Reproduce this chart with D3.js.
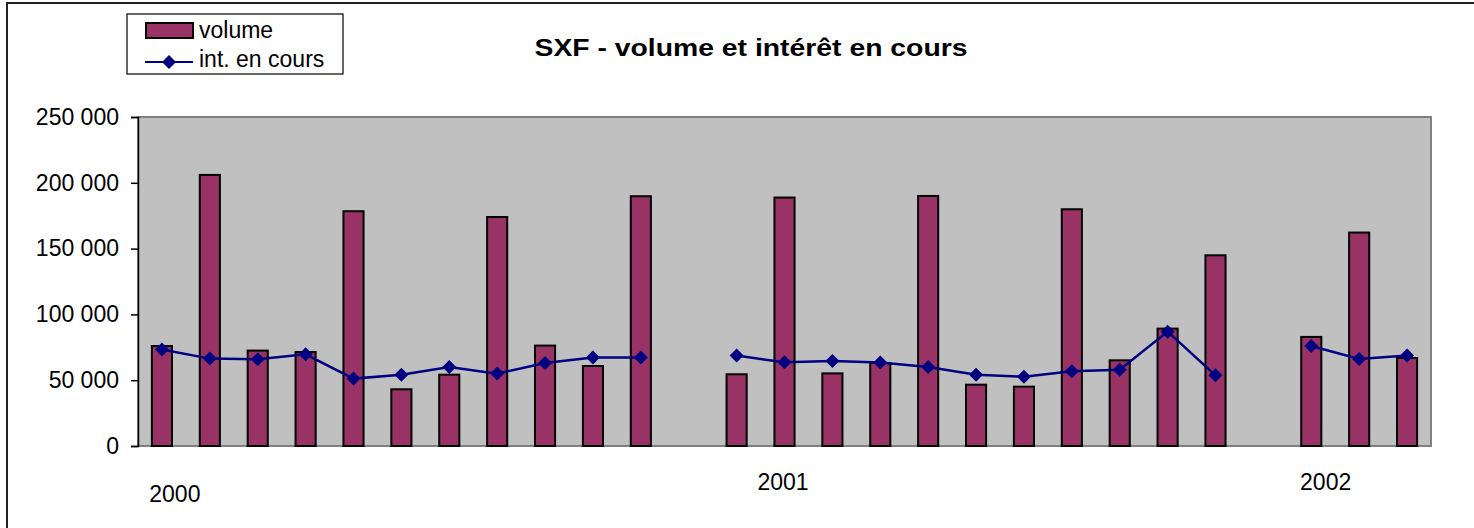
<!DOCTYPE html>
<html>
<head>
<meta charset="utf-8">
<script src="https://cdn.jsdelivr.net/npm/d3@7"></script>
<style>
  body { margin: 0; background: #fff; }
  svg { display: block; font-family: Arial, "Liberation Sans", sans-serif; }
</style>
</head>
<body>
<svg width="1474" height="528"></svg>
<script>
// données - 27 créneaux mensuels, null = mois sans cotation
const slots = d3.range(27);
const volume = [76000, 206000, 72500, 71400, 178400, 43100, 54200, 174000, 76300, 60800, 189800, null,
                54500, 188800, 55200, 63100, 190000, 46600, 45100, 179900, 65100, 89200, 144900, null,
                82900, 162200, 66900];
const openInt = [73300, 66400, 65900, 69700, 51200, 54100, 60000, 55000, 63100, 67200, 67200, null,
                 68700, 63600, 64600, 63400, 60000, 54200, 52700, 56800, 58000, 86900, 53700, null,
                 76000, 66100, 68700];
const yTicks = [0, 50000, 100000, 150000, 200000, 250000];
const yearLabels = ["2000", "2001", "2002"];
const yearSlots = [0.77, 13.47, 24.8]; // position (en créneaux) des libellés d'année

const svg = d3.select("svg");
const plotL = 138, plotR = 1431, plotT = 117, plotB = 446;

// cadre du graphique
svg.append("rect")
  .attr("x", 7).attr("y", 3).attr("width", 1480).attr("height", 540)
  .attr("fill", "#fff").attr("stroke", "#222").attr("stroke-width", 2);

const x = d3.scaleBand().domain(slots).range([plotL, plotR]).paddingInner(0.58).paddingOuter(0.29);
const xLin = d3.scaleLinear().domain([0, 27]).range([plotL, plotR]);
const y = d3.scaleLinear().domain([0, 250000]).range([plotB, plotT]);

// zone de traçage
svg.append("rect")
  .attr("x", plotL).attr("y", plotT).attr("width", plotR - plotL).attr("height", plotB - plotT)
  .attr("fill", "#c0c0c0").attr("stroke", "#808080").attr("stroke-width", 2);

// axe Y
const fmt = d => d3.format(",")(d).replace(/,/g, " ");
const yAxis = svg.append("g")
  .attr("transform", `translate(${plotL},0)`)
  .call(d3.axisLeft(y).tickValues(yTicks).tickSize(7).tickPadding(12).tickFormat(fmt));
yAxis.select(".domain").attr("stroke", "#000").attr("stroke-width", 1.5);
yAxis.selectAll(".tick line").attr("stroke", "#000").attr("stroke-width", 1.5);
yAxis.selectAll("text").attr("font-size", 23).attr("fill", "#000")
  .attr("font-family", "Arial, 'Liberation Sans', sans-serif");

// barres volume
svg.append("g").selectAll("rect")
  .data(slots.filter(i => volume[i] != null))
  .join("rect")
  .attr("x", i => x(i))
  .attr("y", i => y(volume[i]))
  .attr("width", x.bandwidth())
  .attr("height", i => y(0) - y(volume[i]))
  .attr("fill", "#993366")
  .attr("stroke", "#000")
  .attr("stroke-width", 2);

// ligne intérêt en cours
const cx = i => x(i) + x.bandwidth() / 2;
const line = d3.line()
  .defined(i => openInt[i] != null)
  .x(cx)
  .y(i => y(openInt[i]));
svg.append("path")
  .datum(slots)
  .attr("d", line)
  .attr("fill", "none")
  .attr("stroke", "#000080")
  .attr("stroke-width", 2.5);

const diamond = "M0,-7L7,0L0,7L-7,0Z";
svg.append("g").selectAll("path")
  .data(slots.filter(i => openInt[i] != null))
  .join("path")
  .attr("transform", i => `translate(${cx(i)},${y(openInt[i])})`)
  .attr("d", diamond)
  .attr("fill", "#000080");

// libellés d'année
svg.append("g").selectAll("text")
  .data(yearLabels)
  .join("text")
  .attr("x", (d, i) => xLin(yearSlots[i]))
  .attr("y", (d, i) => i === 0 ? 502 : 490)
  .attr("text-anchor", "middle")
  .attr("font-size", 23)
  .text(d => d);

// titre
svg.append("text")
  .attr("x", 751).attr("y", 56)
  .attr("text-anchor", "middle")
  .attr("font-size", 24)
  .attr("font-weight", "bold")
  .attr("textLength", 433)
  .attr("lengthAdjust", "spacingAndGlyphs")
  .text("SXF - volume et intérêt en cours");

// légende
const lg = svg.append("g");
lg.append("rect").attr("x", 127).attr("y", 14).attr("width", 216).attr("height", 60)
  .attr("fill", "#fff").attr("stroke", "#000").attr("stroke-width", 1.2);
lg.append("rect").attr("x", 146).attr("y", 23).attr("width", 47).attr("height", 15)
  .attr("fill", "#993366").attr("stroke", "#000").attr("stroke-width", 2);
lg.append("text").attr("x", 199).attr("y", 38).attr("font-size", 23).text("volume");
lg.append("line").attr("x1", 145).attr("x2", 193).attr("y1", 62).attr("y2", 62)
  .attr("stroke", "#000080").attr("stroke-width", 2);
lg.append("path").attr("transform", "translate(169,62)").attr("d", diamond).attr("fill", "#000080");
lg.append("text").attr("x", 199).attr("y", 67).attr("font-size", 23).text("int. en cours");
</script>
</body>
</html>
